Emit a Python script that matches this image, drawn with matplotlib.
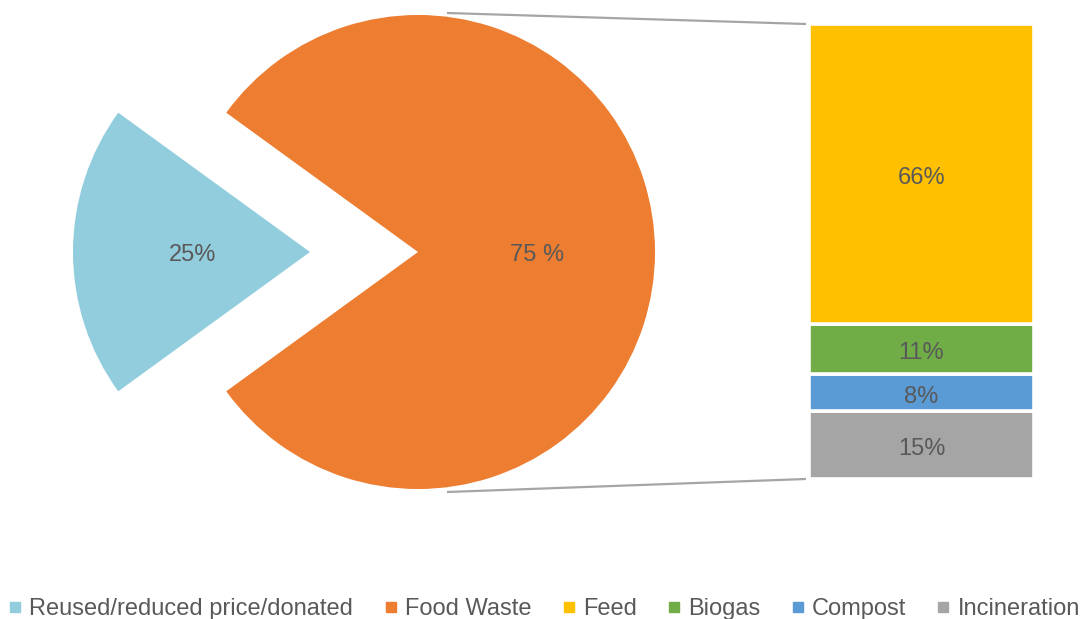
import numpy as np
import matplotlib.pyplot as plt
from matplotlib.lines import Line2D

plt.rcParams['font.family'] = ['Liberation Sans', 'DejaVu Sans']

# Datos del gráfico (tamaño de las porciones, etiquetas tal cual)
pie_labels = ['Reused/reduced price/donated', 'Food Waste']
pie_values = [20, 80]
pie_pct_text = ['25%', '75 %']

bar_labels = ['Feed', 'Biogas', 'Compost', 'Incineration']
bar_values = [66, 11, 8, 15]

pie_colors = ['#92CDDD', '#ED7D31']
bar_colors = ['#FFC000', '#70AD47', '#5B9BD5', '#A5A5A5']
text_color = '#595959'
W, H = 1084, 619

fig = plt.figure(figsize=(W / 100, H / 100), dpi=100)

# Eje del pastel en coordenadas de píxel
ax = fig.add_axes([0, 0, 1, 1])
start = 180 - 360 * pie_values[0] / sum(pie_values) / 2
wedges, texts = ax.pie(
    pie_values, colors=pie_colors, startangle=start, counterclock=True,
    explode=[108, 0], center=(418, H - 252), radius=237)
for w, txt in zip(wedges, pie_pct_text):
    ang = np.deg2rad((w.theta1 + w.theta2) / 2)
    cx, cy = w.center
    ax.annotate(txt, (cx + 0.5 * w.r * np.cos(ang), cy + 0.5 * w.r * np.sin(ang)),
                xytext=(1, -3), textcoords='offset pixels',
                ha='center', va='center', color=text_color, fontsize=17)
ax.set_xlim(0, W)
ax.set_ylim(0, H)
ax.set_aspect('equal')
ax.axis('off')

# Líneas de conexión pastel -> barra
ax.plot([447, 806], [H - 13, H - 24], color='#A5A5A5', lw=1.6, solid_capstyle='butt')
ax.plot([447, 806], [H - 492, H - 479], color='#A5A5A5', lw=1.6, solid_capstyle='butt')

# Barra apilada (de arriba hacia abajo: Feed, Biogas, Compost, Incineration)
axb = fig.add_axes([809 / W, (H - 479) / H, 225 / W, 455 / H])
bottom = 0
for lab, val, col in reversed(list(zip(bar_labels, bar_values, bar_colors))):
    axb.bar(0, val, bottom=bottom, width=1, color=col, edgecolor='white', linewidth=2.6)
    axb.annotate(f'{val}%', (0, bottom + val / 2), xytext=(0, -4),
                 textcoords='offset pixels', ha='center', va='center',
                 color=text_color, fontsize=17)
    bottom += val
axb.set_xlim(-0.5, 0.5)
axb.set_ylim(0, sum(bar_values))
axb.axis('off')

# Leyenda
handles = [Line2D([], [], marker='s', ls='', color=c, markersize=6.5)
           for c in pie_colors + bar_colors]
fig.legend(handles, pie_labels + bar_labels, loc='center', ncol=6,
           bbox_to_anchor=(0.503, 10 / H), frameon=False, fontsize=17,
           labelcolor=text_color, handlelength=0.4, handletextpad=0.4,
           columnspacing=1.38, borderaxespad=0, borderpad=0)

fig.savefig('out.png', dpi=100)
